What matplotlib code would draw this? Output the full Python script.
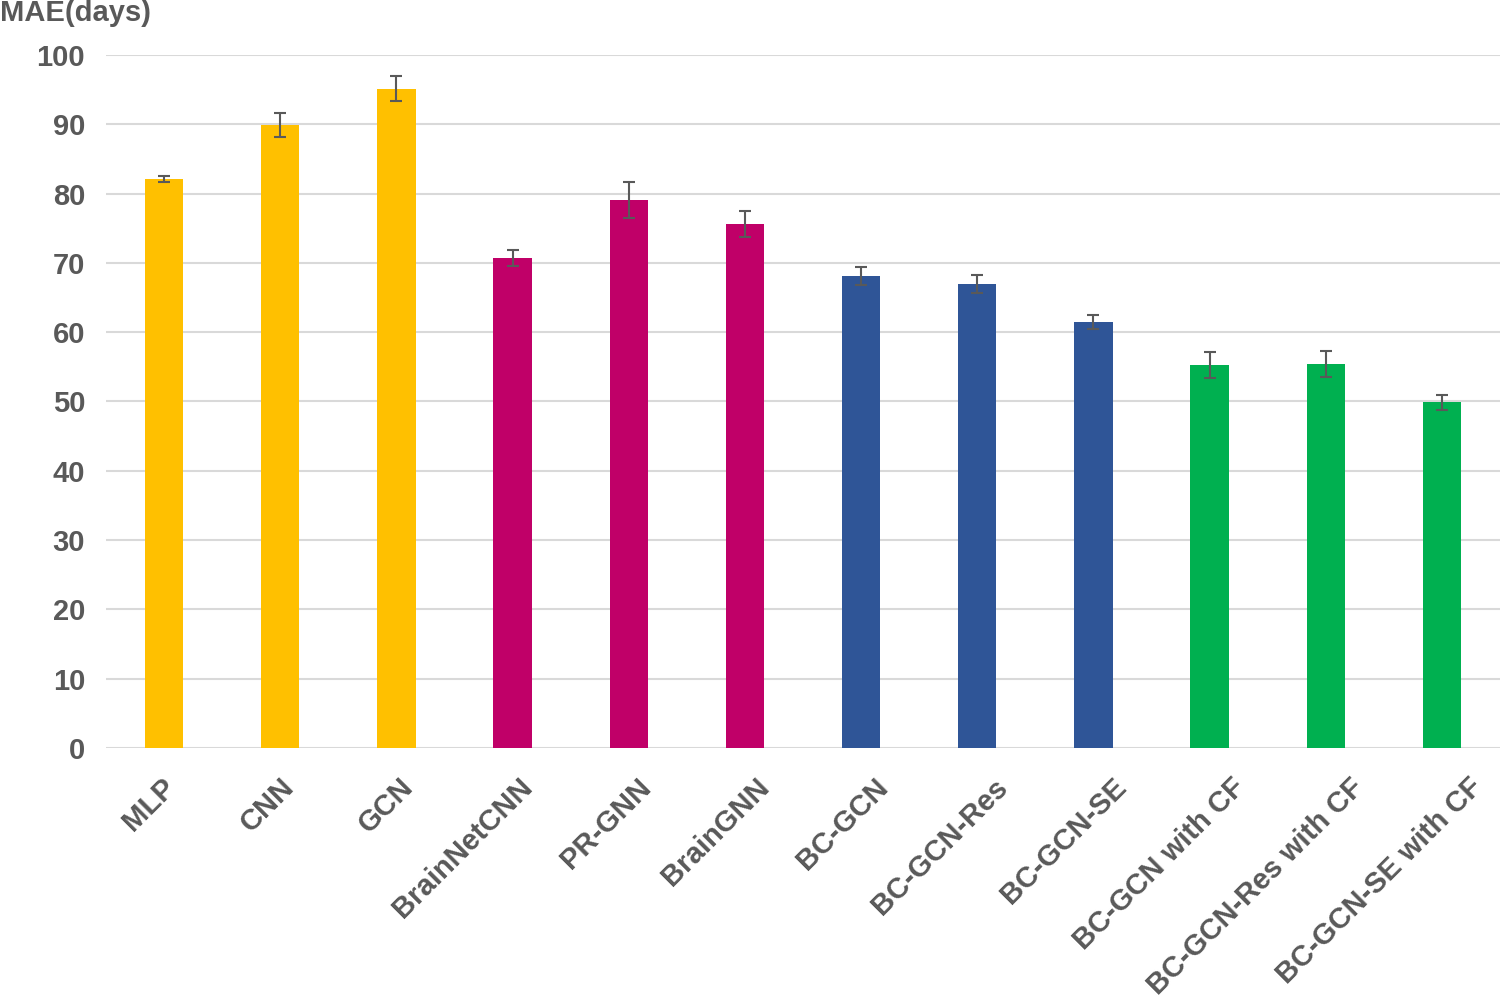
import matplotlib
matplotlib.use("Agg")
import matplotlib.pyplot as plt
from matplotlib.transforms import ScaledTranslation

categories = ["MLP", "CNN", "GCN", "BrainNetCNN", "PR-GNN", "BrainGNN",
              "BC-GCN", "BC-GCN-Res", "BC-GCN-SE", "BC-GCN with CF",
              "BC-GCN-Res with CF", "BC-GCN-SE with CF"]
mae = [82.1, 89.9, 95.1, 70.7, 79.1, 75.6, 68.1, 67.0, 61.5, 55.3, 55.4, 49.9]
err = [0.5, 1.7, 1.8, 1.2, 2.6, 1.9, 1.3, 1.3, 1.0, 1.9, 1.9, 1.1]
colors = ["#FFC000"] * 3 + ["#C00068"] * 3 + ["#2F5597"] * 3 + ["#00B050"] * 3
yticks = [0, 10, 20, 30, 40, 50, 60, 70, 80, 90, 100]

plt.rcParams['font.family'] = ['Liberation Sans', 'DejaVu Sans']
fig = plt.figure(figsize=(15, 9.99), dpi=100)
ax = fig.add_axes([0.0707, 0.2513, 0.9293, 0.6937])

x = list(range(len(categories)))
ax.bar(x, mae, width=0.33, color=colors, zorder=2)
ax.errorbar(x, mae, yerr=err, fmt='none', ecolor='#595959', elinewidth=1.5,
            capsize=4, capthick=1.5, zorder=3)

ax.set_xlim(-0.5, len(categories) - 0.5)
ax.set_ylim(0, 100)
ax.set_yticks(yticks)
ax.set_yticklabels([str(v) for v in yticks], fontsize=21, fontweight='bold', color='#595959')
ax.yaxis.grid(True, color='#D9D9D9', linewidth=1.5, zorder=0)
ax.set_axisbelow(True)
for s in ax.spines.values():
    s.set_visible(False)
ax.tick_params(axis='both', length=0)
ax.tick_params(axis='y', pad=15)
ax.set_xticks(x)
labels = ax.set_xticklabels(categories, rotation=45, ha='right', rotation_mode='anchor',
                            fontsize=21, fontweight='bold', color='#595959')
ax.tick_params(axis='x', pad=18)
# the reference's label spacing is slightly wider than the bar spacing
for i, lab in enumerate(labels):
    dx = (-3 + 2.7 * i) / 100.0
    lab.set_transform(lab.get_transform() + ScaledTranslation(dx, 0, fig.dpi_scale_trans))

fig.text(0.0, 0.987, "MAE(days)", fontsize=21, fontweight='bold', color='#595959',
         ha='left', va='center')

fig.savefig("out.png", dpi=100)
